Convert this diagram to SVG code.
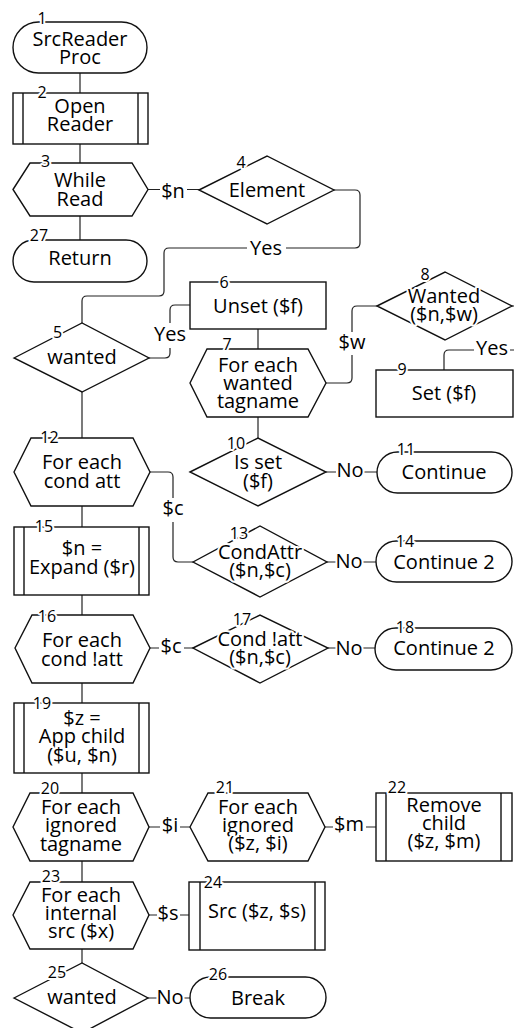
<svg xmlns="http://www.w3.org/2000/svg" width="514" height="1028" viewBox="0 0 514 1028">
<style>
.n{fill:#fff;stroke:#111;stroke-width:1.4}
.b{fill:none;stroke:#111;stroke-width:1.4}
.c{fill:none;stroke:#222;stroke-width:1.2}
text{font-family:"Open Sans","Noto Sans",sans-serif;font-size:20px;text-anchor:middle;fill:#000;stroke:#fff;stroke-width:4;stroke-linejoin:round;paint-order:stroke}
.num{font-size:16px}
</style>
<rect width="514" height="1028" fill="#fff"/>
<g id="connectors">
<path class="c" d="M80,73V93M80,144V163M80,216V240"/>
<path class="c" d="M148,189.5H160M187,189.5H199"/>
<path class="c" d="M334,190H355Q360,190 360,195V243Q360,248 355,248H286M247,248H169Q164,248 164,253V291Q164,296 159,296H87Q82,296 82,301V323"/>
<path class="c" d="M149,358H165Q170,358 170,353V348M170,323V310Q170,305 175,305H190"/>
<path class="c" d="M258,329V349"/>
<path class="c" d="M326,383H347Q352,383 352,378V355M352,332V311Q352,306 357,306H377"/>
<path class="c" d="M512,306H530V350H510M474,350H449Q444,350 444,355V370"/>
<path class="c" d="M258,417V438"/>
<path class="c" d="M326,472H336M364,472H377"/>
<path class="c" d="M82,392V438"/>
<path class="c" d="M150,472H168Q173,472 173,477V498M173,522V557Q173,562 178,562H193"/>
<path class="c" d="M327,562H337M362,562H376"/>
<path class="c" d="M82,506V527M82,595V615"/>
<path class="c" d="M150,648H159M184,648H193"/>
<path class="c" d="M328,648H337M362,648H375"/>
<path class="c" d="M82,683V703M82,773V793"/>
<path class="c" d="M149,827H160M180,827H190"/>
<path class="c" d="M325,827H333M366,827H376"/>
<path class="c" d="M82,861V882"/>
<path class="c" d="M149,915H157M180,915H189"/>
<path class="c" d="M82,949V963"/>
<path class="c" d="M148,998H157M184,998H190"/>
<text x="173" y="198">$n</text>
<text x="266" y="255">Yes</text>
<text x="170" y="341">Yes</text>
<text x="352" y="349">$w</text>
<text x="492" y="355">Yes</text>
<text x="350" y="477">No</text>
<text x="173" y="515">$c</text>
<text x="349" y="568">No</text>
<text x="171" y="653">$c</text>
<text x="349" y="655">No</text>
<text x="170" y="832">$i</text>
<text x="349" y="831">$m</text>
<text x="168" y="920">$s</text>
<text x="170" y="1004">No</text>
</g>
<g id="node1">
<rect class="n" x="13" y="22" width="134" height="51" rx="25.5"/>
<text x="80" y="46">SrcReader</text><text x="80" y="64">Proc</text>
<text class="num" x="42" y="24">1</text>
</g>
<g id="node2">
<rect class="n" x="13" y="93" width="135" height="51"/>
<path class="b" d="M23,93V144M138,93V144"/>
<text x="80" y="113">Open</text><text x="80" y="131">Reader</text>
<text class="num" x="42" y="98">2</text>
</g>
<g id="node3">
<polygon class="n" points="13,189.5 30,163 132,163 148,189.5 132,216 30,216"/>
<text x="80" y="187">While</text><text x="80" y="206">Read</text>
<text class="num" x="45.5" y="167">3</text>
</g>
<g id="node27">
<rect class="n" x="13" y="240" width="134" height="42" rx="21"/>
<text x="80" y="265">Return</text>
<text class="num" x="39" y="241">27</text>
</g>
<g id="node4">
<polygon class="n" points="199,190 267,156 334,190 267,224"/>
<text x="267" y="197">Element</text>
<text class="num" x="241" y="168">4</text>
</g>
<g id="node5">
<polygon class="n" points="14,358 82,323 149,358 82,392"/>
<text x="82" y="364">wanted</text>
<text class="num" x="57.5" y="338">5</text>
</g>
<g id="node6">
<rect class="n" x="190" y="282" width="136" height="47"/>
<text x="258" y="313">Unset ($f)</text>
<text class="num" x="224" y="288">6</text>
</g>
<g id="node7">
<polygon class="n" points="190,383 207,349 308,349 326,383 308,417 207,417"/>
<text x="258" y="372">For each</text><text x="258" y="390">wanted</text><text x="258" y="408">tagname</text>
<text class="num" x="227" y="350">7</text>
</g>
<g id="node8">
<polygon class="n" points="377,306 445,272 512,306 445,340"/>
<text x="444" y="303">Wanted</text><text x="444" y="321">($n,$w)</text>
<text class="num" x="425" y="280">8</text>
</g>
<g id="node9">
<rect class="n" x="376" y="370" width="137" height="47"/>
<text x="444" y="400">Set ($f)</text>
<text class="num" x="402" y="375">9</text>
</g>
<g id="node10">
<polygon class="n" points="190,472 258,438 326,472 258,506"/>
<text x="258" y="469">Is set</text><text x="258" y="488">($f)</text>
<text class="num" x="236" y="449">10</text>
</g>
<g id="node11">
<rect class="n" x="377" y="452" width="135" height="41" rx="20.5"/>
<text x="444" y="479">Continue</text>
<text class="num" x="406" y="455">11</text>
</g>
<g id="node12">
<polygon class="n" points="14,472 31,438 133,438 150,472 133,506 31,506"/>
<text x="82" y="469">For each</text><text x="82" y="488">cond att</text>
<text class="num" x="49.5" y="443">12</text>
</g>
<g id="node13">
<polygon class="n" points="193,562 260,526 327,562 260,597"/>
<text x="260" y="559">CondAttr</text><text x="260" y="577">($n,$c)</text>
<text class="num" x="239" y="539">13</text>
</g>
<g id="node14">
<rect class="n" x="376" y="541" width="136" height="41" rx="20.5"/>
<text x="444" y="569">Continue 2</text>
<text class="num" x="405" y="547">14</text>
</g>
<g id="node15">
<rect class="n" x="14" y="527" width="135" height="68"/>
<path class="b" d="M24,527V595M139,527V595"/>
<text x="82" y="555">$n =</text><text x="82" y="574">Expand ($r)</text>
<text class="num" x="44" y="532">15</text>
</g>
<g id="node16">
<polygon class="n" points="15,648 32,615 133,615 150,648 133,683 32,683"/>
<text x="82" y="647">For each</text><text x="82" y="666">cond !att</text>
<text class="num" x="47" y="622">16</text>
</g>
<g id="node17">
<polygon class="n" points="193,648 260,615 328,648 260,683"/>
<text x="260" y="646">Cond !att</text><text x="260" y="664">($n,$c)</text>
<text class="num" x="242" y="625">17</text>
</g>
<g id="node18">
<rect class="n" x="375" y="628" width="137" height="42" rx="21"/>
<text x="444" y="655">Continue 2</text>
<text class="num" x="405" y="633">18</text>
</g>
<g id="node19">
<rect class="n" x="14" y="703" width="135" height="70"/>
<path class="b" d="M24,703V773M139,703V773"/>
<text x="82" y="725">$z =</text><text x="82" y="743">App child</text><text x="82" y="762">($u, $n)</text>
<text class="num" x="42" y="709">19</text>
</g>
<g id="node20">
<polygon class="n" points="13,827 30,793 133,793 149,827 133,861 30,861"/>
<text x="81" y="814">For each</text><text x="81" y="832">ignored</text><text x="81" y="851">tagname</text>
<text class="num" x="50" y="794">20</text>
</g>
<g id="node21">
<polygon class="n" points="190,827 208,793 308,793 325,827 308,861 208,861"/>
<text x="258" y="814">For each</text><text x="258" y="832">ignored</text><text x="258" y="850">($z, $i)</text>
<text class="num" x="225" y="793">21</text>
</g>
<g id="node22">
<rect class="n" x="376" y="793" width="136" height="68"/>
<path class="b" d="M386,793V861M501,793V861"/>
<text x="444" y="812">Remove</text><text x="444" y="830">child</text><text x="444" y="848">($z, $m)</text>
<text class="num" x="397" y="793">22</text>
</g>
<g id="node23">
<polygon class="n" points="13,915 30,882 133,882 149,915 133,949 30,949"/>
<text x="81" y="902">For each</text><text x="81" y="920">internal</text><text x="81" y="938">src ($x)</text>
<text class="num" x="51" y="882">23</text>
</g>
<g id="node24">
<rect class="n" x="189" y="882" width="136" height="68"/>
<path class="b" d="M200,882V950M315,882V950"/>
<text x="257" y="918">Src ($z, $s)</text>
<text class="num" x="213" y="888">24</text>
</g>
<g id="node25">
<polygon class="n" points="14,998 82,963 148,998 82,1033"/>
<text x="82" y="1004">wanted</text>
<text class="num" x="57" y="978">25</text>
</g>
<g id="node26">
<rect class="n" x="190" y="977" width="136" height="41" rx="20.5"/>
<text x="258" y="1005">Break</text>
<text class="num" x="218" y="980">26</text>
</g>
</svg>
